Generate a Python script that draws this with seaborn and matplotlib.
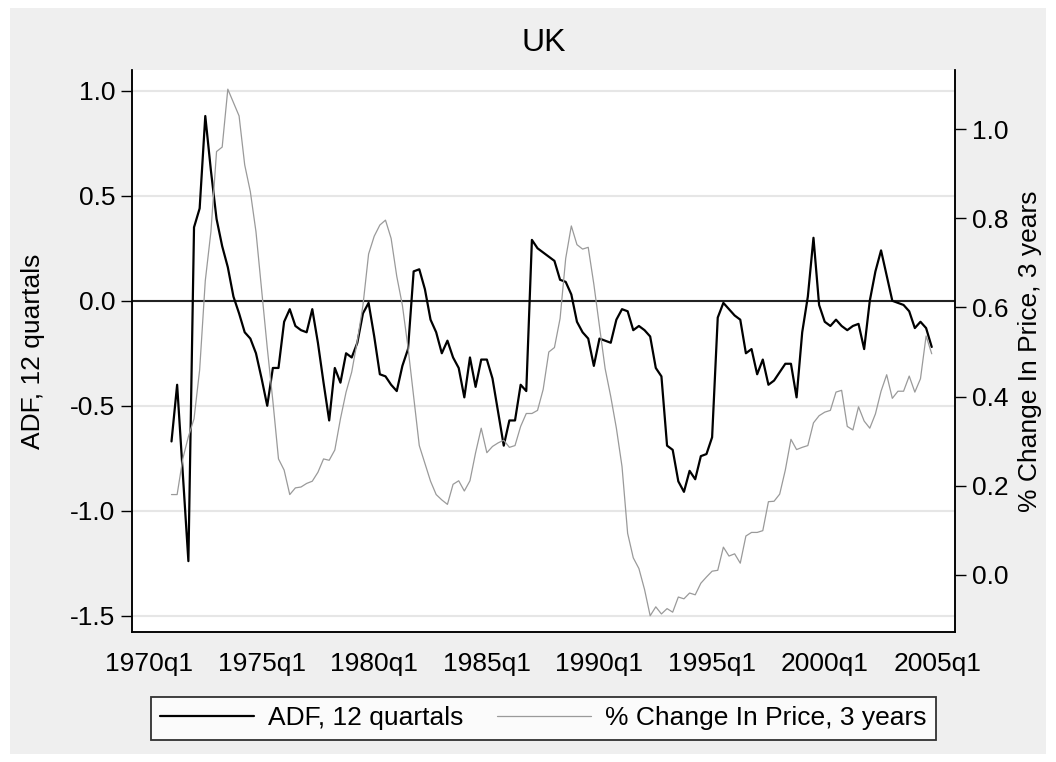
import numpy as np
import pandas as pd
import matplotlib
matplotlib.use('Agg')
import matplotlib.pyplot as plt
import seaborn as sns
from matplotlib.patches import Rectangle
from matplotlib.lines import Line2D

# quarters counted from 1970q1 = 0; both series start in 1971q1
start_quarter = 4

adf = [-0.67, -0.40, -0.82, -1.24, 0.35, 0.44, 0.88, 0.62, 0.39, 0.26,
       0.16, 0.02, -0.06, -0.15, -0.18, -0.25, -0.37, -0.50, -0.32, -0.32,
       -0.10, -0.04, -0.12, -0.14, -0.15, -0.04, -0.20, -0.39, -0.57, -0.32,
       -0.39, -0.25, -0.27, -0.20, -0.06, -0.01, -0.17, -0.35, -0.36, -0.40,
       -0.43, -0.31, -0.23, 0.14, 0.15, 0.055, -0.09, -0.15, -0.25, -0.19,
       -0.27, -0.32, -0.46, -0.27, -0.41, -0.28, -0.28, -0.37, -0.53, -0.69,
       -0.57, -0.57, -0.40, -0.43, 0.29, 0.25, 0.23, 0.21, 0.19, 0.10,
       0.09, 0.03, -0.10, -0.15, -0.18, -0.31, -0.18, -0.19, -0.20, -0.09,
       -0.04, -0.05, -0.14, -0.12, -0.14, -0.17, -0.32, -0.36, -0.69, -0.71,
       -0.86, -0.91, -0.81, -0.85, -0.74, -0.73, -0.65, -0.08, -0.01, -0.04,
       -0.07, -0.09, -0.25, -0.23, -0.35, -0.28, -0.40, -0.38, -0.34, -0.30,
       -0.30, -0.46, -0.15, 0.02, 0.30, -0.02, -0.10, -0.12, -0.09, -0.12,
       -0.14, -0.12, -0.11, -0.23, 0.00, 0.14, 0.24, 0.12, 0.00, -0.01,
       -0.02, -0.05, -0.13, -0.10, -0.13, -0.22]

pct_change = [0.18, 0.18, 0.26, 0.31, 0.35, 0.46, 0.66, 0.77, 0.95, 0.96,
              1.09, 1.06, 1.03, 0.92, 0.86, 0.77, 0.64, 0.51, 0.39, 0.26,
              0.235, 0.18, 0.195, 0.197, 0.205, 0.21, 0.23, 0.26, 0.257, 0.28,
              0.35, 0.41, 0.455, 0.525, 0.605, 0.72, 0.76, 0.785, 0.796, 0.755,
              0.67, 0.605, 0.51, 0.40, 0.29, 0.25, 0.21, 0.18, 0.168, 0.158,
              0.203, 0.211, 0.188, 0.211, 0.274, 0.329, 0.274, 0.288, 0.296, 0.302,
              0.286, 0.29, 0.333, 0.362, 0.362, 0.369, 0.416, 0.50, 0.51, 0.575,
              0.71, 0.783, 0.741, 0.731, 0.735, 0.652, 0.558, 0.463, 0.40, 0.329,
              0.243, 0.093, 0.038, 0.014, -0.033, -0.092, -0.072, -0.088, -0.076, -0.084,
              -0.05, -0.054, -0.041, -0.045, -0.019, -0.005, 0.008, 0.01, 0.062, 0.042,
              0.047, 0.026, 0.087, 0.095, 0.095, 0.099, 0.164, 0.165, 0.181, 0.235,
              0.304, 0.281, 0.286, 0.29, 0.341, 0.357, 0.365, 0.369, 0.41, 0.414,
              0.333, 0.325, 0.377, 0.345, 0.329, 0.361, 0.412, 0.449, 0.396, 0.412,
              0.412, 0.446, 0.41, 0.44, 0.536, 0.496]

tick_quarters = [0, 20, 40, 60, 80, 100, 120, 140]
tick_labels = ['1970q1', '1975q1', '1980q1', '1985q1',
               '1990q1', '1995q1', '2000q1', '2005q1']
adf_ticks = [-1.5, -1.0, -0.5, 0.0, 0.5, 1.0]
pct_ticks = [0.0, 0.2, 0.4, 0.6, 0.8, 1.0]

df = pd.DataFrame({
    'quarter': np.arange(start_quarter, start_quarter + len(adf)),
    'adf': adf,
    'pct': pct_change,
})

sns.set_style('white')
plt.rcParams['font.family'] = ['Liberation Sans', 'DejaVu Sans']
plt.rcParams['axes.unicode_minus'] = False
for key in ('text.color', 'axes.labelcolor', 'xtick.color', 'ytick.color'):
    plt.rcParams[key] = 'black'

fig = plt.figure(figsize=(10.56, 7.62), dpi=100, facecolor='white')
# light grey graph region with a thin white margin
fig.patches.append(Rectangle((10 / 1056, 8 / 762), 1036 / 1056, 746 / 762,
                             transform=fig.transFigure, facecolor='#efefef',
                             edgecolor='none', zorder=-10))

ax = fig.add_axes([0.1247, 0.1702, 0.7797, 0.7379])
ax2 = ax.twinx()

ax.yaxis.grid(True, color='#e6e6e6', lw=1.5)
ax.set_axisbelow(True)
ax.axhline(0, color='#222222', lw=1.5, zorder=1.5)

sns.lineplot(data=df, x='quarter', y='adf', ax=ax, color='black', lw=1.6)
sns.lineplot(data=df, x='quarter', y='pct', ax=ax2, color='#9a9a9a', lw=0.9)

# right axis lined up with the left one as in the original
ax.set_xlim(-3.07, 143.14)
ax.set_ylim(-1.579, 1.099)
ax2.set_ylim(0.615 - 1.579 * 0.4713, 0.615 + 1.099 * 0.4713)

ax.set_xticks(tick_quarters)
ax.set_xticklabels(tick_labels)
ax.set_yticks(adf_ticks)
ax.set_yticklabels([f'{v:.1f}' for v in adf_ticks])
ax2.set_yticks(pct_ticks)
ax2.set_yticklabels([f'{v:.1f}' for v in pct_ticks])

for a in (ax, ax2):
    a.tick_params(axis='both', direction='out', length=8, width=1.0,
                  color='black', labelcolor='black', labelsize=19, pad=4)
    a.spines['top'].set_visible(False)
    for s in ('left', 'right', 'bottom'):
        a.spines[s].set_color('black')
        a.spines[s].set_linewidth(1.1)
ax.tick_params(axis='x', pad=6)

ax.set_xlabel('')
ax.set_ylabel('ADF, 12 quartals', fontsize=19, color='black')
ax2.set_ylabel('% Change In Price, 3 years', fontsize=19, color='black')
ax.yaxis.set_label_coords(-0.105, 0.5)
ax2.yaxis.set_label_coords(1.077, 0.5)

fig.text(0.5146, 1 - 43 / 762, 'UK', ha='center', va='center',
         fontsize=23, color='black')

handles = [Line2D([], [], color='black', lw=1.6),
           Line2D([], [], color='#9a9a9a', lw=0.9)]
leg = fig.legend(handles, ['ADF, 12 quartals', '% Change In Price, 3 years'],
                 ncol=2, loc='center', bbox_to_anchor=(0.5147, 0.0571),
                 frameon=True, fancybox=False, edgecolor='black',
                 fontsize=19, handlelength=3.55, handletextpad=0.55,
                 columnspacing=1.26, borderpad=0.35)
leg.get_frame().set_linewidth(1.3)
leg.get_frame().set_facecolor('white')
for txt in leg.get_texts():
    txt.set_color('black')

fig.savefig('out.png', dpi=100, facecolor=fig.get_facecolor())
